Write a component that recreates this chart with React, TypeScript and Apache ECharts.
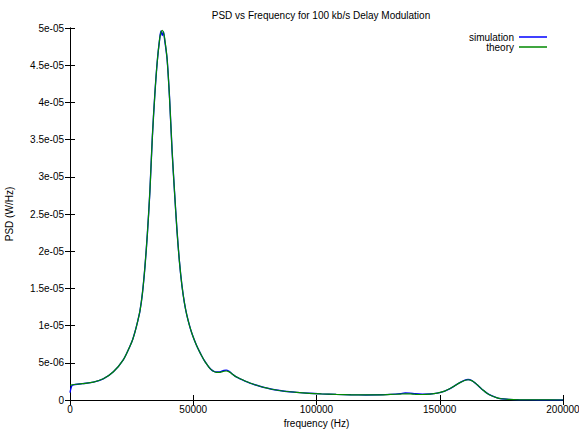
import React, { useEffect, useRef } from "react";
import * as echarts from "echarts";

const titleText = "PSD vs Frequency for 100 kb/s Delay Modulation";
const xName = "frequency (Hz)";
const yName = "PSD (W/Hz)";
const seriesNames = ["simulation", "theory"];

// frequency grid (Hz)
const freqHz = [
  0, 500, 1000, 5000, 9500, 13500, 17600, 21600, 24400, 25400, 26400, 27400, 28400, 29400, 30400, 31400, 32400, 33400, 34400, 35400, 36400,
  36900, 37400, 37900, 38400, 39400, 40400, 41400, 42400, 43400, 44400, 45400, 46400, 47400, 48400, 49400, 50400, 51400, 52400, 53400,
  54400, 55400, 56400, 57400, 58400, 59400, 60400, 61400, 62400, 63400, 64400, 65400, 66400, 67400, 69000, 71000, 73000, 75000, 77000,
  80000, 83000, 87000, 92000, 97000, 102000, 108000, 114000, 120000, 126000, 130000, 134000, 136000, 138000, 140000, 143000, 146000,
  149000, 152000, 154000, 156000, 158000, 160000, 161500, 163000, 164500, 166000, 167500, 169000, 171000, 173000, 175000, 178000,
  182000, 190000, 200000,
];

// theory PSD (W/Hz)
const theoryPsd = [
  2.0e-6, 2.02e-6, 2.05e-6, 2.2e-6, 2.4e-6, 2.85e-6, 3.8e-6, 5.4e-6, 7.3e-6, 8.1e-6, 9.2e-6, 1.05e-5, 1.2e-5, 1.44e-5, 1.79e-5, 2.24e-5, 2.8e-5, 3.53e-5, 4.1e-5, 4.55e-5, 4.86e-5,
  4.94e-5, 4.97e-5, 4.94e-5, 4.86e-5, 4.58e-5, 4.05e-5, 3.36e-5, 2.8e-5, 2.28e-5, 1.86e-5, 1.54e-5, 1.31e-5, 1.14e-5, 1.01e-5, 9.0e-6, 8.1e-6, 7.3e-6, 6.6e-6, 5.95e-6,
  5.35e-6, 4.85e-6, 4.4e-6, 4.05e-6, 3.82e-6, 3.72e-6, 3.7e-6, 3.76e-6, 3.86e-6, 3.9e-6, 3.82e-6, 3.6e-6, 3.35e-6, 3.12e-6, 2.85e-6, 2.55e-6, 2.28e-6, 2.05e-6, 1.85e-6,
  1.6e-6, 1.38e-6, 1.18e-6, 1.02e-6, 9.0e-7, 8.2e-7, 7.5e-7, 7.0e-7, 6.8e-7, 7.0e-7, 7.5e-7, 8.0e-7, 8.2e-7, 8.1e-7, 7.7e-7, 7.4e-7, 7.9e-7,
  9.3e-7, 1.2e-6, 1.5e-6, 1.9e-6, 2.3e-6, 2.62e-6, 2.72e-6, 2.6e-6, 2.25e-6, 1.8e-6, 1.35e-6, 9.5e-7, 5.8e-7, 3.2e-7, 1.7e-7, 8.0e-8,
  3.0e-8, 1.0e-8, 0,
];

// simulation PSD (W/Hz)
const simPsd = [
  1.0e-6, 1.7e-6, 2.0e-6, 2.2e-6, 2.4e-6, 2.85e-6, 3.8e-6, 5.4e-6, 7.3e-6, 8.1e-6, 9.2e-6, 1.05e-5, 1.2e-5, 1.44e-5, 1.79e-5, 2.24e-5, 2.8e-5, 3.53e-5, 4.1e-5, 4.55e-5, 4.86e-5,
  4.96e-5, 4.9e-5, 4.95e-5, 4.84e-5, 4.58e-5, 4.05e-5, 3.36e-5, 2.8e-5, 2.28e-5, 1.86e-5, 1.54e-5, 1.31e-5, 1.14e-5, 1.01e-5, 9.0e-6, 8.1e-6, 7.3e-6, 6.6e-6, 5.95e-6,
  5.35e-6, 4.85e-6, 4.4e-6, 4.05e-6, 3.84e-6, 3.76e-6, 3.76e-6, 3.85e-6, 3.97e-6, 4.02e-6, 3.9e-6, 3.62e-6, 3.35e-6, 3.12e-6, 2.85e-6, 2.55e-6, 2.28e-6, 2.05e-6, 1.85e-6,
  1.6e-6, 1.38e-6, 1.18e-6, 1.02e-6, 9.0e-7, 8.2e-7, 7.5e-7, 7.0e-7, 6.8e-7, 7.0e-7, 7.6e-7, 8.6e-7, 9.4e-7, 9.2e-7, 8.4e-7, 7.9e-7, 8.1e-7,
  9.3e-7, 1.2e-6, 1.5e-6, 1.9e-6, 2.3e-6, 2.65e-6, 2.76e-6, 2.62e-6, 2.25e-6, 1.8e-6, 1.35e-6, 9.5e-7, 5.8e-7, 3.2e-7, 1.7e-7, 8.0e-8,
  3.0e-8, 1.0e-8, 0,
];

const xMin = 0;
const xMax = 200000;
const xStep = 50000;
const yMin = 0;
const yMax = 5e-5;
const yStep = 5e-6;

function fmtY(v: number): string {
  if (Math.abs(v) < 1e-15) return "0";
  const s = Number(v.toPrecision(6)).toExponential();
  return s.replace(/e([+-])(\d+)$/, (_m, sign, d) => "e" + sign + (d.length < 2 ? "0" + d : d));
}

const FONT = "'Liberation Sans', Arial, Helvetica, sans-serif";

export default function App() {
  const ref = useRef<HTMLDivElement>(null);
  useEffect(() => {
    if (!ref.current) return;
    const chart = echarts.init(ref.current, undefined, { renderer: "svg" });
    const axisLine = { show: true, lineStyle: { color: "#000", width: 1 } };
    const tickIn = { show: true, inside: true, length: 5, lineStyle: { color: "#000" } };
    chart.setOption({
      animation: false,
      backgroundColor: "#fff",
      textStyle: { fontFamily: FONT },
      title: {
        text: titleText,
        left: 316,
        textAlign: "center",
        top: 5,
        textStyle: { fontFamily: FONT, fontSize: 10, fontWeight: "normal", color: "#000" },
      },
      legend: {
        data: seriesNames,
        orient: "vertical",
        right: 27,
        top: 27,
        align: "right",
        icon: "rect",
        itemWidth: 28,
        itemHeight: 1.5,
        itemGap: 0,
        textStyle: { fontFamily: FONT, fontSize: 10, color: "#000", lineHeight: 10 },
      },
      grid: { left: 70, right: 16, top: 28, bottom: 29, containLabel: false, outerBoundsMode: "none" },
      xAxis: [
        {
          type: "value",
          min: xMin,
          max: xMax,
          interval: xStep,
          position: "bottom",
          name: xName,
          nameLocation: "middle",
          nameGap: 17,
          nameTextStyle: { fontFamily: FONT, fontSize: 10, color: "#000" },
          axisLine,
          axisTick: tickIn,
          splitLine: { show: false },
          axisLabel: { fontFamily: FONT, fontSize: 10, color: "#000", margin: 4, formatter: (v: number) => String(v) },
        },
        {
          type: "value",
          min: xMin,
          max: xMax,
          interval: xStep,
          position: "top",
          axisLine,
          axisTick: tickIn,
          splitLine: { show: false },
          axisLabel: { show: false },
        },
      ],
      yAxis: [
        {
          type: "value",
          min: yMin,
          max: yMax,
          interval: yStep,
          position: "left",
          name: yName,
          nameLocation: "middle",
          nameGap: 56,
          nameTextStyle: { fontFamily: FONT, fontSize: 10, color: "#000" },
          axisLine,
          axisTick: tickIn,
          splitLine: { show: false },
          axisLabel: { fontFamily: FONT, fontSize: 10, color: "#000", margin: 6, formatter: fmtY },
        },
        {
          type: "value",
          min: yMin,
          max: yMax,
          interval: yStep,
          position: "right",
          axisLine,
          axisTick: tickIn,
          splitLine: { show: false },
          axisLabel: { show: false },
        },
      ],
      series: [
        {
          name: seriesNames[0],
          type: "line",
          data: freqHz.map((f, i) => [f, simPsd[i]]),
          showSymbol: false,
          smooth: 0.3,
          lineStyle: { color: "#0000ff", width: 1.4 },
          itemStyle: { color: "#0000ff" },
        },
        {
          name: seriesNames[1],
          type: "line",
          data: freqHz.map((f, i) => [f, theoryPsd[i]]),
          showSymbol: false,
          smooth: 0.3,
          lineStyle: { color: "#008800", width: 1.2 },
          itemStyle: { color: "#008800" },
        },
      ],
    });
    return () => chart.dispose();
  }, []);
  return <div ref={ref} style={{ width: 579, height: 429, position: "absolute", left: 0, top: 0 }} />;
}
